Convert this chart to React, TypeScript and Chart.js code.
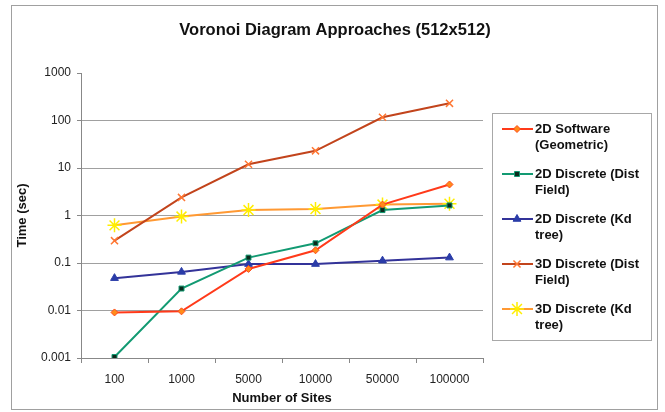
import React, { useEffect, useRef } from 'react';
import { Chart, registerables } from 'chart.js';
import { drawPoint } from 'chart.js/helpers';

Chart.register(...registerables);

const categories = ['100', '1000', '5000', '10000', '50000', '100000'];
const software2D = [0.0091, 0.0096, 0.075, 0.185, 1.7, 4.5];
const distField2D = [0.00105, 0.029, 0.13, 0.26, 1.3, 1.63];
const kdTree2D = [0.048, 0.065, 0.095, 0.095, 0.112, 0.13];
const distField3D = [0.295, 2.4, 12, 23, 117, 230];
const kdTree3D = [0.62, 0.95, 1.3, 1.37, 1.7, 1.77];
const yTickValues = [0.001, 0.01, 0.1, 1, 10, 100, 1000];
const yTickLabels = ['0.001', '0.01', '0.1', '1', '10', '100', '1000'];
const chartTitle = 'Voronoi Diagram Approaches (512x512)';
const legendLines = [
  ['2D Software', '(Geometric)'],
  ['2D Discrete (Dist', 'Field)'],
  ['2D Discrete (Kd', 'tree)'],
  ['3D Discrete (Dist', 'Field)'],
  ['3D Discrete (Kd', 'tree)'],
];
const seriesNames = legendLines.map((l) => l.join(' '));

const FONT = '"Liberation Sans", Arial, Helvetica, sans-serif';

const titleAndLegend = {
  id: 'titleAndLegend',
  afterDraw(chart: any) {
    const ctx = chart.ctx;
    ctx.save();
    // title
    ctx.fillStyle = '#111';
    ctx.font = 'bold 16.5px ' + FONT;
    ctx.textAlign = 'center';
    ctx.textBaseline = 'middle';
    ctx.fillText(chartTitle, 335, 30);
    // legend box
    ctx.strokeStyle = '#a8a8a8';
    ctx.lineWidth = 1;
    ctx.strokeRect(492.5, 113.5, 159, 227);
    chart.data.datasets.forEach((ds: any, i: number) => {
      const y = 129 + i * 45;
      ctx.strokeStyle = ds.borderColor;
      ctx.lineWidth = 2;
      ctx.beginPath();
      ctx.moveTo(502, y);
      ctx.lineTo(533, y);
      ctx.stroke();
      ctx.fillStyle = ds.pointBackgroundColor;
      ctx.strokeStyle = ds.pointBorderColor;
      ctx.lineWidth = ds.pointBorderWidth;
      drawPoint(
        ctx,
        { pointStyle: ds.pointStyle, radius: ds.pointRadius, rotation: 0, borderWidth: ds.pointBorderWidth } as any,
        517,
        y
      );
      ctx.fillStyle = '#111';
      ctx.font = 'bold 13px ' + FONT;
      ctx.textBaseline = 'middle';
      ctx.textAlign = 'left';
      legendLines[i].forEach((t, j) => ctx.fillText(t, 535, y + j * 16));
    });
    ctx.restore();
  },
};

export default function App() {
  const ref = useRef<HTMLCanvasElement>(null);
  useEffect(() => {
    if (!ref.current) return;
    Chart.defaults.font.family = FONT;
    const chart = new Chart(ref.current, {
      type: 'line',
      data: {
        labels: categories,
        datasets: [
          {
            label: seriesNames[0],
            data: software2D,
            borderColor: '#ff3a1a',
            borderWidth: 2,
            pointStyle: 'rectRot',
            pointRadius: 3.5,
            pointBackgroundColor: '#ff8c1a',
            pointBorderColor: '#ff4a1a',
            pointBorderWidth: 1,
          },
          {
            label: seriesNames[1],
            data: distField2D,
            borderColor: '#129a72',
            borderWidth: 2,
            pointStyle: 'rect',
            pointRadius: 3.5,
            pointBackgroundColor: '#0b2a1c',
            pointBorderColor: '#129a72',
            pointBorderWidth: 1,
          },
          {
            label: seriesNames[2],
            data: kdTree2D,
            borderColor: '#333399',
            borderWidth: 2,
            pointStyle: 'triangle',
            pointRadius: 4.5,
            pointBackgroundColor: '#2a3ca8',
            pointBorderColor: '#2a3ca8',
            pointBorderWidth: 1,
          },
          {
            label: seriesNames[3],
            data: distField3D,
            borderColor: '#c2441c',
            borderWidth: 2,
            pointStyle: 'crossRot',
            pointRadius: 5,
            pointBackgroundColor: '#ff7733',
            pointBorderColor: '#ff7733',
            pointBorderWidth: 1.5,
          },
          {
            label: seriesNames[4],
            data: kdTree3D,
            borderColor: '#ff9933',
            borderWidth: 2,
            pointStyle: 'star',
            pointRadius: 7,
            pointBackgroundColor: '#ffee00',
            pointBorderColor: '#ffee00',
            pointBorderWidth: 1.5,
          },
        ],
      },
      options: {
        responsive: false,
        animation: false,
        devicePixelRatio: 1,
        layout: { padding: { left: 0, right: 182, top: 73, bottom: 0 } },
        elements: { line: { tension: 0 } },
        plugins: {
          legend: { display: false },
          tooltip: { enabled: false },
          title: { display: false },
        },
        scales: {
          x: {
            type: 'category',
            offset: true,
            afterFit: (s: any) => {
              s.height = 54;
            },
            grid: {
              display: true,
              offset: true,
              drawOnChartArea: false,
              drawTicks: true,
              tickLength: 5,
              color: '#888',
              tickColor: '#888',
            },
            border: { display: true, color: '#888', width: 1 },
            ticks: { color: '#222', font: { size: 12, family: FONT }, padding: 9, maxRotation: 0 },
            title: {
              display: true,
              text: 'Number of Sites',
              color: '#111',
              font: { size: 13, weight: 'bold', family: FONT },
              padding: { top: 2, bottom: 6 },
            },
          },
          y: {
            type: 'logarithmic',
            min: 0.001,
            max: 1000,
            afterFit: (s: any) => {
              s.width = 81;
            },
            afterBuildTicks: (s: any) => {
              s.ticks = yTickValues.map((v) => ({ value: v }));
            },
            grid: {
              color: (c: any) => (c.tick && c.tick.value === 1000 ? 'rgba(0,0,0,0)' : '#a0a0a0'),
              tickColor: '#888',
              tickLength: 4,
              lineWidth: 1,
            },
            border: { display: true, color: '#888', width: 1 },
            ticks: {
              color: '#222',
              font: { size: 12, family: FONT },
              padding: 6,
              autoSkip: false,
              callback: (v: any) => {
                const i = yTickValues.findIndex((t) => Math.abs(t - v) / t < 1e-6);
                return i >= 0 ? yTickLabels[i] : '';
              },
            },
            title: {
              display: true,
              text: 'Time (sec)',
              color: '#111',
              font: { size: 13, weight: 'bold', family: FONT },
              padding: { top: 15, bottom: 0 },
            },
          },
        },
      },
      plugins: [titleAndLegend],
    });
    return () => chart.destroy();
  }, []);
  return (
    <div style={{ position: 'fixed', left: 0, top: 0, width: 665, height: 412, background: '#fff' }}>
      <canvas ref={ref} width={665} height={412} style={{ position: 'absolute', left: 0, top: 0 }} />
      <div
        style={{
          position: 'absolute',
          left: 11,
          top: 5,
          width: 647,
          height: 405,
          border: '1px solid #a0a0a0',
          boxSizing: 'border-box',
          pointerEvents: 'none',
        }}
      />
    </div>
  );
}
